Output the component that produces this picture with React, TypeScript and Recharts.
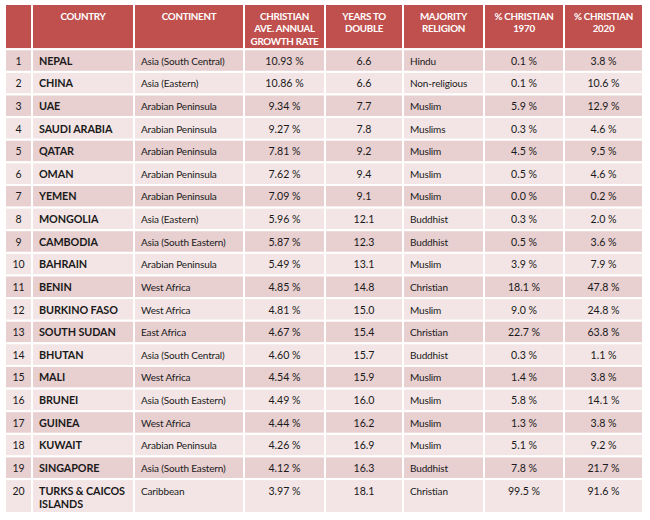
import React from 'react';
import { ComposedChart, XAxis, YAxis, ReferenceArea } from 'recharts';

// ---------- data ----------
const ranks = [1, 2, 3, 4, 5, 6, 7, 8, 9, 10, 11, 12, 13, 14, 15, 16, 17, 18, 19, 20];
const countries = [
  'NEPAL', 'CHINA', 'UAE', 'SAUDI ARABIA', 'QATAR', 'OMAN', 'YEMEN', 'MONGOLIA', 'CAMBODIA', 'BAHRAIN',
  'BENIN', 'BURKINO FASO', 'SOUTH SUDAN', 'BHUTAN', 'MALI', 'BRUNEI', 'GUINEA', 'KUWAIT', 'SINGAPORE',
  'TURKS & CAICOS ISLANDS',
];
const continents = [
  'Asia (South Central)', 'Asia (Eastern)', 'Arabian Peninsula', 'Arabian Peninsula', 'Arabian Peninsula',
  'Arabian Peninsula', 'Arabian Peninsula', 'Asia (Eastern)', 'Asia (South Eastern)', 'Arabian Peninsula',
  'West Africa', 'West Africa', 'East Africa', 'Asia (South Central)', 'West Africa', 'Asia (South Eastern)',
  'West Africa', 'Arabian Peninsula', 'Asia (South Eastern)', 'Caribbean',
];
const growthRates = [10.93, 10.86, 9.34, 9.27, 7.81, 7.62, 7.09, 5.96, 5.87, 5.49, 4.85, 4.81, 4.67, 4.6, 4.54, 4.49, 4.44, 4.26, 4.12, 3.97];
const yearsToDouble = [6.6, 6.6, 7.7, 7.8, 9.2, 9.4, 9.1, 12.1, 12.3, 13.1, 14.8, 15.0, 15.4, 15.7, 15.9, 16.0, 16.2, 16.9, 16.3, 18.1];
const majorityReligions = [
  'Hindu', 'Non-religious', 'Muslim', 'Muslims', 'Muslim', 'Muslim', 'Muslim', 'Buddhist', 'Buddhist', 'Muslim',
  'Christian', 'Muslim', 'Christian', 'Buddhist', 'Muslim', 'Muslim', 'Muslim', 'Muslim', 'Buddhist', 'Christian',
];
const pctChristian1970 = [0.1, 0.1, 5.9, 0.3, 4.5, 0.5, 0.0, 0.3, 0.5, 3.9, 18.1, 9.0, 22.7, 0.3, 1.4, 5.8, 1.3, 5.1, 7.8, 99.5];
const pctChristian2020 = [3.8, 10.6, 12.9, 4.6, 9.5, 4.6, 0.2, 2.0, 3.6, 7.9, 47.8, 24.8, 63.8, 1.1, 3.8, 14.1, 3.8, 9.2, 21.7, 91.6];
const headerLabels = [
  [''],
  ['COUNTRY'],
  ['CONTINENT'],
  ['CHRISTIAN', 'AVE. ANNUAL', 'GROWTH RATE'],
  ['YEARS TO', 'DOUBLE'],
  ['MAJORITY', 'RELIGION'],
  ['% CHRISTIAN', '1970'],
  ['% CHRISTIAN', '2020'],
];

// ---------- layout / style ----------
const W = 650;
const H = 520;
const COL_WIDTHS = [27, 102, 110, 81, 78, 81, 80, 79];
const COL_ANCHOR = ['middle', 'start', 'start', 'middle', 'middle', 'start', 'middle', 'middle'];
const COL_BOLD = [false, true, false, false, false, false, false, false];
const COL_FONTSIZE = [10.5, 10.8, 10, 10.6, 10.6, 10, 10.6, 10.6];
const COL_SPACING = [0, -0.1, -0.15, 0, 0, -0.15, 0, 0];
const COL_MAXCHARS = [4, 15, 26, 12, 12, 16, 12, 12];
const HEADER_UNITS = 2;
const ROW_UNITS = 1;
const WRAPPED_ROW_UNITS = 1.5;
const FONT = 'Lato, "Open Sans", sans-serif';
const HEADER_FILL = '#C0504D';
const ODD_FILL = '#E8CFD0';
const EVEN_FILL = '#F3E5E5';
const TEXT_COLOR = '#1a1a1a';

const wrap = (s: string, max: number): string[] => {
  const words = s.split(' ');
  const lines: string[] = [];
  let cur = '';
  for (const w of words) {
    const next = cur ? cur + ' ' + w : w;
    if (next.length > max && cur) {
      lines.push(cur);
      cur = w;
    } else cur = next;
  }
  if (cur) lines.push(cur);
  return lines;
};

const fmtPct2 = (v: number) => `${v.toFixed(2)} %`;
const fmtPct1 = (v: number) => `${v.toFixed(1)} %`;

const colStarts: number[] = [];
COL_WIDTHS.reduce((acc, w) => {
  colStarts.push(acc);
  return acc + w;
}, 0);
const TOTAL_W = COL_WIDTHS.reduce((a, b) => a + b, 0);

type Cell = {
  key: string;
  col: number;
  y1: number;
  y2: number;
  lines: string[];
  header: boolean;
  fill: string;
};

const rowTexts = ranks.map((r, i) => [
  String(r),
  countries[i],
  continents[i],
  fmtPct2(growthRates[i]),
  yearsToDouble[i].toFixed(1),
  majorityReligions[i],
  fmtPct1(pctChristian1970[i]),
  fmtPct1(pctChristian2020[i]),
]);

const cells: Cell[] = [];
headerLabels.forEach((lines, c) => {
  cells.push({ key: `h${c}`, col: c, y1: 0, y2: HEADER_UNITS, lines, header: true, fill: HEADER_FILL });
});
let yCursor = HEADER_UNITS;
rowTexts.forEach((texts, i) => {
  const wrapped = texts.map((t, c) => wrap(t, COL_MAXCHARS[c]));
  const maxLines = Math.max(...wrapped.map((l) => l.length));
  const h = maxLines > 1 ? WRAPPED_ROW_UNITS : ROW_UNITS;
  wrapped.forEach((lines, c) => {
    cells.push({
      key: `r${i}c${c}`,
      col: c,
      y1: yCursor,
      y2: yCursor + h,
      lines,
      header: false,
      fill: i % 2 === 0 ? ODD_FILL : EVEN_FILL,
    });
  });
  yCursor += h;
});
const TOTAL_UNITS = yCursor;

const tableRows = ranks.map((r, i) => ({ rank: r, country: countries[i] }));

const renderCell = (cell: Cell) => (p: any) => {
  const { x, y, width, height } = p;
  const anchor = COL_ANCHOR[cell.col] as any;
  const pad = 7;
  const tx = cell.header || anchor === 'middle' ? x + width / 2 : x + pad;
  const lh = cell.header ? 12.5 : 13;
  return (
    <g>
      <rect x={x} y={y} width={width} height={height} fill={cell.fill} stroke="#ffffff" strokeWidth={2} />
      <text
        x={tx}
        y={y + 15.5}
        textAnchor={cell.header ? 'middle' : anchor}
        fontFamily={FONT}
        fontSize={cell.header ? 9.8 : COL_FONTSIZE[cell.col]}
        letterSpacing={cell.header ? -0.3 : COL_SPACING[cell.col]}
        fontWeight={cell.header || COL_BOLD[cell.col] ? 700 : 400}
        fill={cell.header ? '#ffffff' : TEXT_COLOR}
      >
        {cell.lines.map((l, k) => (
          <tspan key={k} x={tx} dy={k === 0 ? 0 : lh}>
            {l}
          </tspan>
        ))}
      </text>
    </g>
  );
};

export default function App() {
  return (
    <div style={{ position: 'absolute', left: 0, top: 0, width: W, height: H, background: '#ffffff' }}>
      <ComposedChart
        width={W}
        height={H}
        data={tableRows}
        margin={{ top: 4, left: 5, right: W - 5 - TOTAL_W, bottom: 7 }}
      >
        <XAxis type="number" dataKey="rank" domain={[0, TOTAL_W]} hide allowDataOverflow xAxisId={0} />
        <YAxis type="number" domain={[0, TOTAL_UNITS]} reversed hide allowDataOverflow yAxisId={0} />
        {cells.map((cell) => (
          <ReferenceArea
            key={cell.key}
            x1={colStarts[cell.col]}
            x2={colStarts[cell.col] + COL_WIDTHS[cell.col]}
            y1={cell.y1}
            y2={cell.y2}
            ifOverflow="visible"
            shape={renderCell(cell)}
          />
        ))}
      </ComposedChart>
    </div>
  );
}
